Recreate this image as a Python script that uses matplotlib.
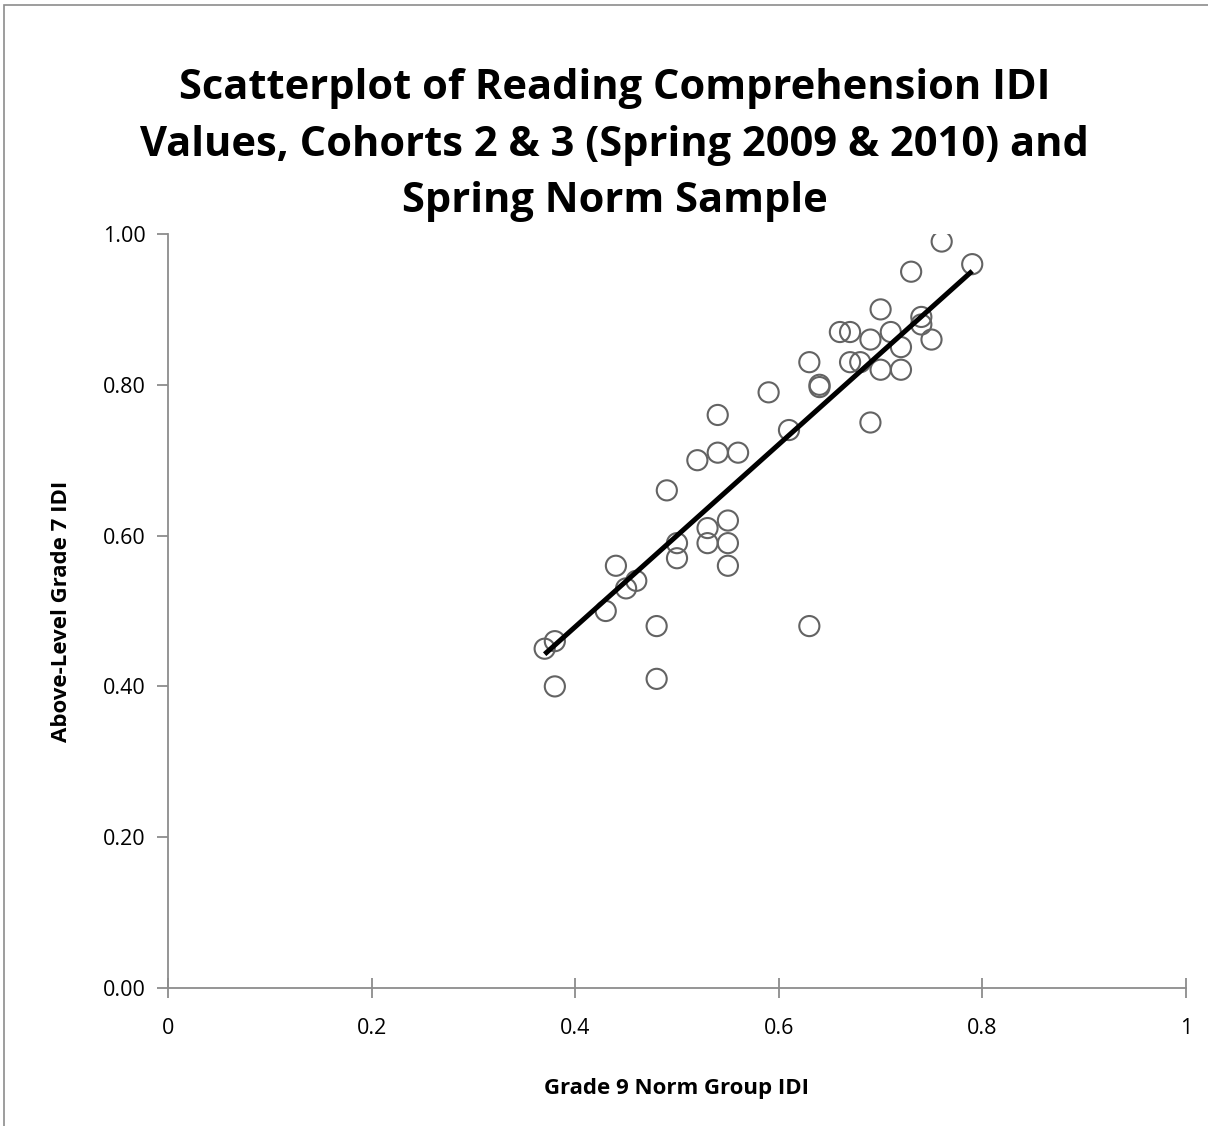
import matplotlib.pyplot as plt
import numpy as np
from matplotlib.patches import Rectangle

# Grade 9 norm group IDI vs above-level grade 7 IDI
norm_idi = [0.37, 0.38, 0.38, 0.43, 0.44, 0.45, 0.46, 0.48, 0.48, 0.49,
            0.50, 0.50, 0.52, 0.53, 0.53, 0.54, 0.54, 0.55, 0.55, 0.55,
            0.56, 0.59, 0.61, 0.63, 0.63, 0.64, 0.64, 0.66, 0.67, 0.67,
            0.68, 0.69, 0.69, 0.70, 0.70, 0.71, 0.72, 0.72, 0.73, 0.74,
            0.74, 0.75, 0.76, 0.79]
grade7_idi = [0.45, 0.46, 0.40, 0.50, 0.56, 0.53, 0.54, 0.48, 0.41, 0.66,
              0.59, 0.57, 0.70, 0.61, 0.59, 0.76, 0.71, 0.62, 0.59, 0.56,
              0.71, 0.79, 0.74, 0.83, 0.48, 0.80, 0.797, 0.87, 0.87, 0.83,
              0.83, 0.86, 0.75, 0.90, 0.82, 0.87, 0.85, 0.82, 0.95, 0.89,
              0.88, 0.86, 0.99, 0.96]

# linear trend line
trend_slope = 1.21
trend_intercept = -0.005

x_ticks = [0, 0.2, 0.4, 0.6, 0.8, 1]
x_labels = ["0", "0.2", "0.4", "0.6", "0.8", "1"]
y_ticks = [0.0, 0.2, 0.4, 0.6, 0.8, 1.0]

plt.rcParams['font.family'] = ['Open Sans', 'DejaVu Sans']

fig = plt.figure(figsize=(12.08, 11.26), dpi=100)
ax = fig.add_axes([168/1208, 1 - 988/1126, 1018/1208, 754/1126])

ax.scatter(norm_idi, grade7_idi, s=210, facecolors="none",
           edgecolors="#636363", linewidths=1.5, zorder=3)

xs = np.array([min(norm_idi), max(norm_idi)])
ax.plot(xs, trend_slope * xs + trend_intercept, color="black", lw=3.6,
        zorder=4, solid_capstyle="butt")

ax.set_xlim(0, 1)
ax.set_ylim(0, 1)
ax.set_xticks(x_ticks)
ax.set_xticklabels(x_labels)
ax.set_yticks(y_ticks)
ax.set_yticklabels([f"{v:.2f}" for v in y_ticks])
ax.tick_params(axis="x", direction="inout", length=15, width=1.3,
               color="#8c8c8c", labelsize=15.5, pad=14)
ax.tick_params(axis="y", direction="out", length=8, width=1.3,
               color="#8c8c8c", labelsize=15.5, pad=8)
for s in ["top", "right"]:
    ax.spines[s].set_visible(False)
for s in ["left", "bottom"]:
    ax.spines[s].set_color("#8c8c8c")
    ax.spines[s].set_linewidth(1.3)

ax.set_xlabel("Grade 9 Norm Group IDI", fontsize=16, fontweight="bold",
              labelpad=28)
ax.set_ylabel("Above-Level Grade 7 IDI", fontsize=16, fontweight="bold",
              labelpad=22)

fig.text(0.509, 1 - 145/1126,
         "Scatterplot of Reading Comprehension IDI\n"
         "Values, Cohorts 2 & 3 (Spring 2009 & 2010) and\n"
         "Spring Norm Sample",
         ha="center", va="center", fontsize=30, fontweight="bold",
         linespacing=1.5)

fig.patches.append(Rectangle((4/1208, -0.1), 1.2, 1 - 5/1126 + 0.1,
                             transform=fig.transFigure, fill=False,
                             edgecolor="#8c8c8c", lw=1.2))

fig.savefig("out.png", dpi=100)
plt.close()
